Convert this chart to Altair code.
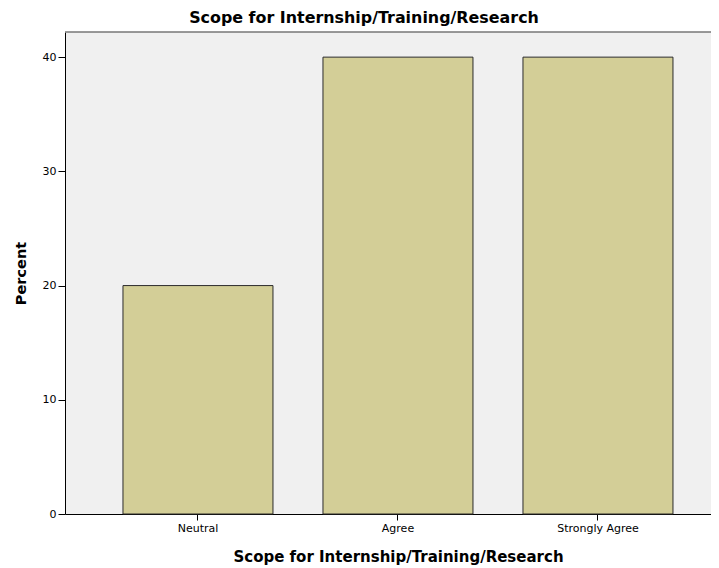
import altair as alt
import pandas as pd

categories = ["Neutral", "Agree", "Strongly Agree"]
percents = [20, 40, 40]
y_max = 42.2

df = pd.DataFrame({"cat": categories, "pct": percents})

LFONT = "DejaVu Sans"

bars = alt.Chart(df).mark_bar(
    color="#D3CE97", stroke="#2b2b2b", strokeWidth=1
).encode(
    x=alt.X("cat:N", sort=categories,
            scale=alt.Scale(paddingInner=0.25, paddingOuter=0.24, align=0.604),
            axis=alt.Axis(title="Scope for Internship/Training/Research", labelAngle=0,
                          labelFont=LFONT, labelFontSize=11, labelColor="#000",
                          titleFont=LFONT, titleFontSize=15, titleFontWeight="bold",
                          titleColor="#000", titlePadding=16, titleX=333,
                          tickSize=6, tickColor="#000", domainColor="#000",
                          labelPadding=2)),
    y=alt.Y("pct:Q", scale=alt.Scale(domain=[0, y_max], nice=False),
            axis=alt.Axis(title="Percent", values=[0, 10, 20, 30, 40], grid=False,
                          labelFont=LFONT, labelFontSize=11, labelColor="#000",
                          titleFont=LFONT, titleFontSize=14.5, titleFontWeight="bold",
                          titleColor="#000", titlePadding=14,
                          tickSize=7, tickColor="#000", domainColor="#000",
                          labelPadding=2)),
)

top_edge = alt.Chart(pd.DataFrame({"y": [y_max]})).mark_rule(
    color="#777777", strokeWidth=1.5
).encode(y="y:Q")

chart = alt.layer(bars, top_edge).properties(
    width=646, height=482,
    title=alt.TitleParams("Scope for Internship/Training/Research", font=LFONT,
                          fontSize=15.9, fontWeight="bold", color="#000", dx=-24, offset=5),
    autosize=alt.AutoSizeParams(type="none"),
    padding={"left": 57, "top": 24, "right": 0, "bottom": 51},
).configure_view(fill="#F0F0F0", stroke=None)

chart.save("out.html", embed_options={"renderer": "svg", "actions": False})
